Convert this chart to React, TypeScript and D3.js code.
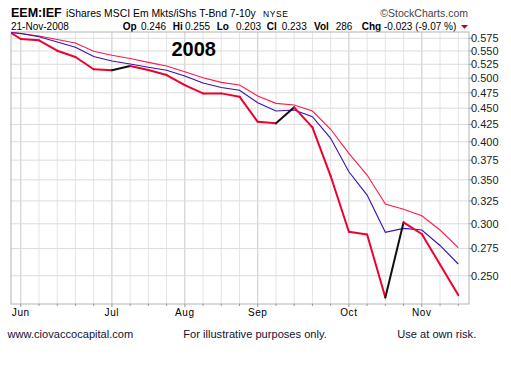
import React from "react";
import * as d3 from "d3";

const weeks = [
  "2008-05-29", "2008-06-02", "2008-06-09", "2008-06-16", "2008-06-23", "2008-06-30",
  "2008-07-07", "2008-07-14", "2008-07-21", "2008-07-28", "2008-08-04", "2008-08-11",
  "2008-08-18", "2008-08-25", "2008-09-01", "2008-09-08", "2008-09-15", "2008-09-22",
  "2008-09-29", "2008-10-06", "2008-10-13", "2008-10-20", "2008-10-27", "2008-11-03",
  "2008-11-10", "2008-11-17",
];
const price = [
  0.587, 0.5736, 0.571, 0.5505, 0.5385, 0.5158, 0.514, 0.5218, 0.5145, 0.5055, 0.488,
  0.474, 0.474, 0.4685, 0.429, 0.4267, 0.4514, 0.4208, 0.3547, 0.2917, 0.289, 0.2317,
  0.3015, 0.2894, 0.26, 0.2336,
];
const maFast = [
  0.587, 0.5848, 0.5796, 0.5726, 0.5656, 0.5494, 0.5417, 0.5357, 0.5285, 0.5218, 0.5114,
  0.5008, 0.4927, 0.4881, 0.4696, 0.4577, 0.455, 0.4455, 0.4179, 0.3841, 0.3559, 0.3215,
  0.3156, 0.3086, 0.2935, 0.276,
];
const maSlow = [
  0.587, 0.5848, 0.5782, 0.5676, 0.5571, 0.5394, 0.531, 0.5254, 0.5196, 0.5141, 0.5038,
  0.4915, 0.4838, 0.4793, 0.4586, 0.4455, 0.4471, 0.4367, 0.4049, 0.3601, 0.3318, 0.2911,
  0.2952, 0.2935, 0.278, 0.2605,
];
const monthTicks = ["2008-06-02", "2008-07-07", "2008-08-04", "2008-09-01", "2008-10-06", "2008-11-03"];
const monthLabels = ["Jun", "Jul", "Aug", "Sep", "Oct", "Nov"];
const yTicks = [0.575, 0.55, 0.525, 0.5, 0.475, 0.45, 0.425, 0.4, 0.375, 0.35, 0.325, 0.3, 0.275, 0.25];

const W = 511, H = 367;
const L = 11, R = 469, T = 32, B = 304;
const parse = d3.timeParse("%Y-%m-%d");
const FONT = "'Liberation Sans', Arial, sans-serif";

export default function App() {
  const x = d3.scaleUtc()
    .domain([new Date(Date.UTC(2008, 4, 29, 6)), new Date(Date.UTC(2008, 10, 21, 3))])
    .range([L, R]);
  const y = d3.scaleLog().domain([0.2264, 0.5879]).range([B, T]);
  const toUtc = (s: string) => {
    const d = parse(s)!;
    return new Date(Date.UTC(d.getFullYear(), d.getMonth(), d.getDate()));
  };
  const dates = weeks.map(toUtc);
  const mdates = monthTicks.map(toUtc);
  const monthSet = new Set(mdates.map((d) => +d));
  const line = d3.line<number>().x((_, i) => x(dates[i])).y((v) => y(v));

  const segs = price.slice(1).map((v, i) => ({
    x1: x(dates[i]), y1: y(price[i]), x2: x(dates[i + 1]), y2: y(v), up: v > price[i],
  }));

  return (
    <svg width={W} height={H} style={{ position: "absolute", left: 0, top: 0, background: "#fff" }} fontFamily={FONT}>
      <defs>
        <clipPath id="plot"><rect x={L} y={T} width={R - L} height={B - T} /></clipPath>
      </defs>
      {/* header */}
      <text x={11} y={17} fontSize={12.5} fontWeight="bold" fill="#000">EEM:IEF</text>
      <text x={66} y={17} fontSize={10.4} fill="#000">iShares MSCI Em Mkts/iShs T-Bnd 7-10y</text>
      <text x={263} y={16.5} fontSize={8.5} fill="#000" letterSpacing={0.6}>NYSE</text>
      <text x={468} y={17} fontSize={10.5} fill="#444" textAnchor="end">©StockCharts.com</text>
      <text x={11} y={29.5} fontSize={10} fill="#000">21-Nov-2008</text>
      <g fontSize={10} fill="#000">
        <text x={122.7} y={29.5} fontWeight="bold">Op</text>
        <text x={141} y={29.5}>0.246</text>
        <text x={172.7} y={29.5} fontWeight="bold">Hi</text>
        <text x={185} y={29.5}>0.255</text>
        <text x={216.7} y={29.5} fontWeight="bold">Lo</text>
        <text x={236} y={29.5}>0.203</text>
        <text x={266.7} y={29.5} fontWeight="bold">Cl</text>
        <text x={281.7} y={29.5}>0.233</text>
        <text x={314} y={29.5} fontWeight="bold">Vol</text>
        <text x={335.7} y={29.5}>286</text>
        <text x={361.7} y={29.5} fontWeight="bold">Chg</text>
        <text x={384} y={29.5}>-0.023 (-9.07 %)</text>
      </g>
      <path d="M461,25 L468,25 L464.5,28.8 Z" fill="#a8003a" />

      {/* grid */}
      {dates.slice(1).map((d, i) => (
        <line key={"v" + i} x1={x(d)} x2={x(d)} y1={T} y2={B}
          stroke={monthSet.has(+d) ? "#c8c8c8" : "#e4e4e4"} strokeWidth={1} />
      ))}
      {yTicks.map((t) => (
        <line key={"h" + t} x1={L} x2={R} y1={y(t)} y2={y(t)} stroke="#dcdcdc" strokeWidth={1} />
      ))}
      <rect x={L} y={T} width={R - L} height={B - T} fill="none" stroke="#b4b4b4" strokeWidth={1} />

      {/* axis ticks & labels */}
      {dates.slice(1).map((d, i) => (
        <line key={"bt" + i} x1={x(d)} x2={x(d)} y1={B} y2={monthSet.has(+d) ? B + 3 : B + 2} stroke="#999" />
      ))}
      {mdates.map((d, i) => (
        <text key={"ml" + i} x={x(d)} y={316} fontSize={10} textAnchor="middle" letterSpacing={0.6} fill="#000">
          {monthLabels[i]}
        </text>
      ))}
      {yTicks.map((t) => (
        <g key={"yl" + t}>
          <line x1={R} x2={R + 3} y1={y(t)} y2={y(t)} stroke="#999" />
          <text x={471} y={y(t)} dy="0.35em" fontSize={11} fill="#222">{d3.format(".3f")(t)}</text>
        </g>
      ))}

      {/* series */}
      <g clipPath="url(#plot)">
        <path d={line(maFast)!} fill="none" stroke="#ff1a4a" strokeWidth={1.1} />
        <path d={line(maSlow)!} fill="none" stroke="#3a10b0" strokeWidth={1.1} />
        {segs.map((s, i) => (
          <line key={"p" + i} x1={s.x1} y1={s.y1} x2={s.x2} y2={s.y2}
            stroke={s.up ? "#111" : "#ee0030"} strokeWidth={2} strokeLinecap="round" />
        ))}
      </g>

      <text x={171.5} y={55.7} fontSize={20} fontWeight="bold" fill="#000">2008</text>

      {/* footer */}
      <g fontSize={11.1} fill="#111133">
        <text x={7.5} y={338}>www.ciovaccocapital.com</text>
        <text x={183.3} y={338}>For illustrative purposes only.</text>
        <text x={397.3} y={338}>Use at own risk.</text>
      </g>
    </svg>
  );
}
